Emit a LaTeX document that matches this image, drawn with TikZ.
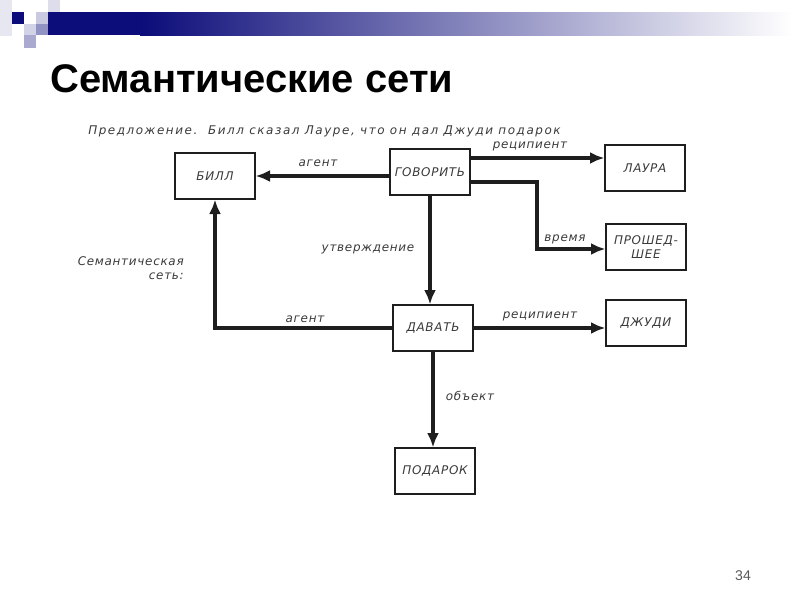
\documentclass[tikz,border=0pt]{standalone}
\usepackage{fontspec}
\setmainfont{Liberation Sans}
\newfontfamily\scan{DejaVu Sans}[LetterSpace=6]
\newfontfamily\scanwide{DejaVu Sans}[LetterSpace=13]
\usetikzlibrary{arrows.meta}
\definecolor{navy}{HTML}{0C0C7A}
\definecolor{ink}{HTML}{1E1E1E}
\definecolor{pencil}{HTML}{3A3A3A}
\tikzset{
  box/.style={draw=ink,line width=1.4pt,minimum width=1.98cm,minimum height=1.13cm,
    inner sep=1pt,font=\scan\itshape\fontsize{8.5}{10}\selectfont,text=pencil},
  link/.style={draw=ink,line width=2.5pt,-{Latex[length=3.6mm,width=3mm]}},
  lbl/.style={font=\scan\itshape\fontsize{8.5}{10}\selectfont,text=pencil,inner sep=0pt},
}
\begin{document}
\begin{tikzpicture}[x=0.025cm,y=-0.025cm]
\useasboundingbox (0,0) rectangle (800,600);
% header
\shade[left color=navy,right color=white] (140,12) rectangle (792,35);
\fill[navy] (48,12) rectangle (141,35);
\fill[navy!10] (0,0) rectangle (12,36);
\fill[navy] (12,12) rectangle (24,24);
\fill[navy!22] (36,12) rectangle (48,24);
\fill[navy!14] (48,0) rectangle (60,12);
\fill[navy!18] (24,24) rectangle (36,35);
\fill[navy!45] (36,24) rectangle (48,35);
\fill[navy!35] (24,35) rectangle (36,48);
\node[anchor=base west,inner sep=0pt,font=\bfseries\fontsize{28.4}{31}\selectfont] (title) at (50,92) {Семантические сети};
\node[inner sep=0pt,text=gray!70!black,font=\fontsize{10}{12}\selectfont] (num) at (743,576) {34};
% sentence
\node[lbl,font=\scanwide\itshape\fontsize{8.5}{10}\selectfont,anchor=west] (sent) at (88,131) {Предложение.\ \ Билл сказал Лауре, что он дал Джуди подарок};
% boxes
\node[box] (bill) at (215,176) {БИЛЛ};
\node[box] (gov) at (430,172) {ГОВОРИТЬ};
\node[box] (laura) at (645,168) {ЛАУРА};
\node[box,align=center] (past) at (646,247) {ПРОШЕД-\\ШЕЕ};
\node[box] (dav) at (433,328) {ДАВАТЬ};
\node[box] (judi) at (646,323) {ДЖУДИ};
\node[box] (gift) at (435,471) {ПОДАРОК};
\coordinate (turn) at (537,249);
% links
\draw[link] (gov.west |- bill.east) -- (bill.east);
\draw[link] (gov.east |- 0,158) -- (laura.west |- 0,158);
\draw[link] (gov.east |- 0,182) -| (turn) -- (past.west |- turn);
\draw[link] (gov.south) -- (gov.south |- dav.north);
\draw[link] (dav.west) -| (bill.south);
\draw[link] (dav.east) -- (judi.west |- dav.east);
\draw[link] (dav.south) -- (dav.south |- gift.north);
% labels
\node[lbl] (l1) at (318,163) {агент};
\node[lbl] (l2) at (530,146) {реципиент};
\node[lbl] (l3) at (565,239) {время};
\node[lbl] (l4) at (368,249) {утверждение};
\node[lbl] (l5) at (305,319) {агент};
\node[lbl] (l6) at (540,316) {реципиент};
\node[lbl] (l7) at (470,396) {объект};
\node[lbl,anchor=east,align=right] (l8) at (184,268) {Семантическая\\сеть:};
\end{tikzpicture}
\end{document}
